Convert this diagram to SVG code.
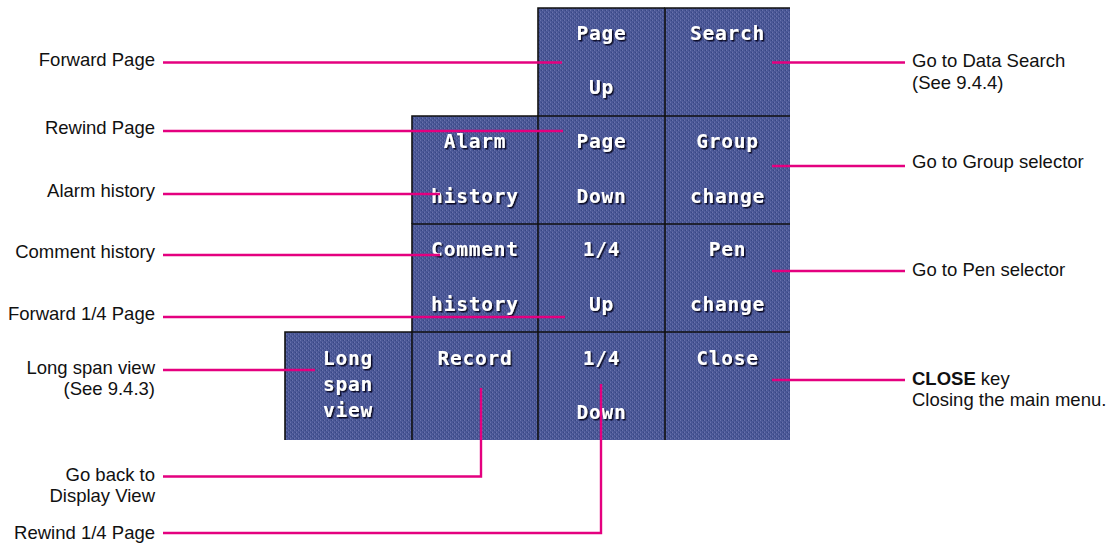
<svg xmlns="http://www.w3.org/2000/svg" width="1111" height="544" viewBox="0 0 1111 544">
<defs>
<pattern id="dith" width="4" height="4" patternUnits="userSpaceOnUse">
<rect width="4" height="4" fill="#4a5796"/>
<rect x="0" y="0" width="1" height="1" fill="#6872ac"/>
<rect x="2" y="2" width="1" height="1" fill="#6872ac"/>
<rect x="1" y="2" width="1" height="1" fill="#384683"/>
<rect x="3" y="0" width="1" height="1" fill="#384683"/>
<rect x="2" y="1" width="1" height="1" fill="#5862a0"/>
<rect x="0" y="3" width="1" height="1" fill="#5862a0"/>
</pattern>
<filter id="sh" x="-10%" y="-20%" width="130%" height="150%">
<feDropShadow dx="1.5" dy="1.5" stdDeviation="0" flood-color="#0c0c28" flood-opacity="1"/>
</filter>
</defs>
<style>
.cell{fill:url(#dith)}
.edge{fill:none;stroke:#111;stroke-width:1.6}
.bt{font-family:"DejaVu Sans Mono","Liberation Mono",monospace;font-weight:bold;font-size:19.5px;letter-spacing:0.8px;fill:#fff;text-anchor:middle;filter:url(#sh)}
.lbl{font-family:"Liberation Sans",Arial,sans-serif;font-size:18.5px;fill:#111}
.l{text-anchor:end}
.c{fill:none;stroke:#e4007f;stroke-width:2.4}
</style>
<rect width="1111" height="544" fill="#fff"/>

<g id="btn-pageup">
<rect class="cell" x="538" y="8" width="127" height="108"/>
<path class="edge" d="M538,116V8H665"/>
<text class="bt" x="601.5" y="40">Page</text>
<text class="bt" x="601.5" y="94">Up</text>
</g>
<g id="btn-search">
<rect class="cell" x="665" y="8" width="125" height="108"/>
<path class="edge" d="M665,116V8H790"/>
<text class="bt" x="727.5" y="40">Search</text>
</g>

<g id="btn-alarm">
<rect class="cell" x="412" y="116" width="126" height="108"/>
<path class="edge" d="M412,224V116H538"/>
<text class="bt" x="475" y="148">Alarm</text>
<text class="bt" x="475" y="203">history</text>
</g>
<g id="btn-pagedown">
<rect class="cell" x="538" y="116" width="127" height="108"/>
<path class="edge" d="M538,224V116H665"/>
<text class="bt" x="601.5" y="148">Page</text>
<text class="bt" x="601.5" y="203">Down</text>
</g>
<g id="btn-group">
<rect class="cell" x="665" y="116" width="125" height="108"/>
<path class="edge" d="M665,224V116H790"/>
<text class="bt" x="727.5" y="148">Group</text>
<text class="bt" x="727.5" y="203">change</text>
</g>

<g id="btn-comment">
<rect class="cell" x="412" y="224" width="126" height="108"/>
<path class="edge" d="M412,332V224H538"/>
<text class="bt" x="475" y="256">Comment</text>
<text class="bt" x="475" y="311">history</text>
</g>
<g id="btn-quarterup">
<rect class="cell" x="538" y="224" width="127" height="108"/>
<path class="edge" d="M538,332V224H665"/>
<text class="bt" x="601.5" y="256">1/4</text>
<text class="bt" x="601.5" y="311">Up</text>
</g>
<g id="btn-pen">
<rect class="cell" x="665" y="224" width="125" height="108"/>
<path class="edge" d="M665,332V224H790"/>
<text class="bt" x="727.5" y="256">Pen</text>
<text class="bt" x="727.5" y="311">change</text>
</g>

<g id="btn-longspan">
<rect class="cell" x="285" y="332" width="127" height="108"/>
<path class="edge" d="M285,440V332H412"/>
<text class="bt" x="348" y="365">Long</text>
<text class="bt" x="348" y="391">span</text>
<text class="bt" x="348" y="417">view</text>
</g>
<g id="btn-record">
<rect class="cell" x="412" y="332" width="126" height="108"/>
<path class="edge" d="M412,440V332H538"/>
<text class="bt" x="475" y="365">Record</text>
</g>
<g id="btn-quarterdown">
<rect class="cell" x="538" y="332" width="127" height="108"/>
<path class="edge" d="M538,440V332H665"/>
<text class="bt" x="601.5" y="365">1/4</text>
<text class="bt" x="601.5" y="419">Down</text>
</g>
<g id="btn-close">
<rect class="cell" x="665" y="332" width="125" height="108"/>
<path class="edge" d="M665,440V332H790"/>
<text class="bt" x="727.5" y="365">Close</text>
</g>

<g id="connectors">
<path class="c" d="M163,62.5H562"/>
<path class="c" d="M163,131H563"/>
<path class="c" d="M163,194H440"/>
<path class="c" d="M163,255H440"/>
<path class="c" d="M163,317H565"/>
<path class="c" d="M163,370H315"/>
<path class="c" d="M163,476.5H481V388"/>
<path class="c" d="M163,533H601V384"/>
<path class="c" d="M772,62.5H905"/>
<path class="c" d="M772,166H905"/>
<path class="c" d="M772,271H905"/>
<path class="c" d="M772,380H905"/>
</g>

<g id="labels-left">
<text class="lbl l" x="155" y="66">Forward Page</text>
<text class="lbl l" x="155" y="134">Rewind Page</text>
<text class="lbl l" x="155" y="197">Alarm history</text>
<text class="lbl l" x="155" y="258">Comment history</text>
<text class="lbl l" x="155" y="319.5">Forward 1/4 Page</text>
<text class="lbl l" x="155" y="373.5">Long span view</text>
<text class="lbl l" x="155" y="395">(See 9.4.3)</text>
<text class="lbl l" x="155" y="480.5">Go back to</text>
<text class="lbl l" x="155" y="502">Display View</text>
<text class="lbl l" x="155" y="538.5">Rewind 1/4 Page</text>
</g>
<g id="labels-right">
<text class="lbl" x="912" y="66.5">Go to Data Search</text>
<text class="lbl" x="912" y="88.5">(See 9.4.4)</text>
<text class="lbl" x="912" y="167.5">Go to Group selector</text>
<text class="lbl" x="912" y="276">Go to Pen selector</text>
<text class="lbl" x="912" y="384.5"><tspan font-weight="bold">CLOSE</tspan> key</text>
<text class="lbl" x="912" y="406">Closing the main menu.</text>
</g>
</svg>
